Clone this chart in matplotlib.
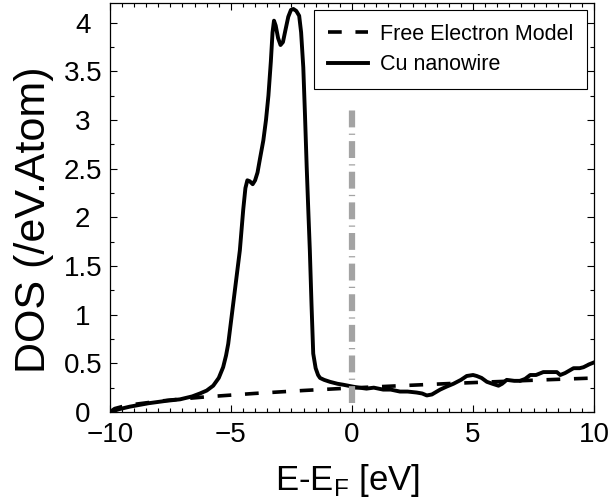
import numpy as np
import matplotlib.pyplot as plt
from matplotlib.ticker import MultipleLocator

plt.rcParams['font.family'] = ['Liberation Sans', 'DejaVu Sans']

# Cu nanowire DOS
cu_energy = [-10.0, -9.6, -9.17, -8.4, -7.66, -7.1, -6.6, -6.28, -6.0, -5.73, -5.5,
             -5.32, -5.2, -5.11, -5.04, -4.9, -4.75, -4.63, -4.49, -4.40, -4.32,
             -4.22, -4.10, -4.0, -3.9, -3.8, -3.66, -3.55, -3.45, -3.35, -3.28,
             -3.22, -3.15, -3.05, -2.95, -2.85, -2.75, -2.63, -2.52, -2.42, -2.3,
             -2.18, -2.1, -2.01, -1.94, -1.87, -1.80, -1.74, -1.67, -1.6, -1.5,
             -1.4, -1.32, -1.15, -0.91, -0.6, -0.36, 0.05, 0.3, 0.6, 0.9, 1.29,
             1.6, 1.98, 2.3, 2.67, 2.9, 3.09, 3.3, 3.64, 3.9, 4.19, 4.5, 4.74,
             5.0, 5.15, 5.35, 5.57, 5.8, 6.05, 6.2, 6.39, 6.7, 6.94, 7.15, 7.36,
             7.6, 7.9, 8.2, 8.46, 8.6, 8.8, 9.15, 9.4, 9.56, 9.8, 10.0]
cu_dos = [0.0, 0.03, 0.055, 0.09, 0.115, 0.13, 0.16, 0.19, 0.22, 0.27, 0.35,
          0.46, 0.58, 0.70, 0.84, 1.12, 1.42, 1.66, 2.08, 2.30, 2.38,
          2.37, 2.34, 2.38, 2.46, 2.60, 2.79, 3.0, 3.25, 3.6, 3.9,
          4.02, 3.97, 3.84, 3.77, 3.80, 3.92, 4.06, 4.13, 4.14, 4.12,
          4.07, 3.9, 3.54, 3.05, 2.52, 2.05, 1.66, 1.1, 0.6, 0.45,
          0.38, 0.35, 0.33, 0.31, 0.29, 0.28, 0.26, 0.25, 0.24, 0.25, 0.23,
          0.23, 0.21, 0.21, 0.20, 0.19, 0.17, 0.18, 0.23, 0.26, 0.29, 0.33, 0.37,
          0.38, 0.37, 0.35, 0.31, 0.29, 0.27, 0.29, 0.33, 0.32, 0.32, 0.34, 0.38,
          0.38, 0.41, 0.41, 0.41, 0.38, 0.40, 0.45, 0.45, 0.46, 0.49, 0.51]

# free electron model
fe_energy = [-10.0, -9.8, -9.5, -9.0, -8.0, -7.0, -6.0, -4.0, -2.0, 0.0, 2.0, 4.0, 6.0, 8.0, 10.0]
fe_dos = [0.0, 0.035, 0.055, 0.078, 0.11, 0.135, 0.156, 0.191, 0.221, 0.247, 0.270, 0.292, 0.312, 0.331, 0.349]

fermi_level = 0.0
fermi_span = [0.09, 3.1]

fig = plt.figure(figsize=(6.1, 4.98), dpi=100)
ax = fig.add_axes([0.180, 0.1727, 0.794, 0.821])

ax.plot(fe_energy, fe_dos, color='black', lw=2.6, ls=(0, (3.8, 3.8)), label='Free Electron Model')
ax.plot(cu_energy, cu_dos, color='black', lw=2.8, label='Cu nanowire',
        solid_joinstyle='round')
ax.plot([fermi_level, fermi_level], fermi_span, color='#a3a3a3', lw=4.5,
        ls=(0, (2.7, 1.0, 0.2, 1.0)))

ax.set_xlim(-10, 10)
ax.set_ylim(0, 4.2)
ax.xaxis.set_minor_locator(MultipleLocator(0.5))
ax.yaxis.set_minor_locator(MultipleLocator(0.25))
ax.set_yticks([0, 0.5, 1, 1.5, 2, 2.5, 3, 3.5, 4])
ax.set_yticklabels(['0', '0.5', '1', '1.5', '2', '2.5', '3', '3.5', '4'])
ax.set_xticks([-10, -5, 0, 5, 10])
ax.set_xticklabels(['\u221210', '\u22125', '0', '5', '10'])
ax.tick_params(which='both', direction='in', top=True, right=True, labelsize=20, width=0.8)
ax.tick_params(which='major', length=5)
ax.tick_params(which='minor', length=3)
ax.tick_params(axis='x', pad=7.5)
ax.tick_params(axis='y', pad=19.5)
# y tick labels are centred in a column, as in the original
for lab in ax.get_yticklabels():
    lab.set_horizontalalignment('center')
for sp in ax.spines.values():
    sp.set_linewidth(0.9)

ax.set_xlabel('E-E$_\\mathregular{F}$ [eV]', fontsize=25)
ax.xaxis.set_label_coords(0.49, -0.123)
ax.set_ylabel('DOS (/eV.Atom)', fontsize=31)
ax.yaxis.set_label_coords(-0.116, 0.47)

leg = ax.legend(loc='upper right', fontsize=15.5, fancybox=False, framealpha=1,
                edgecolor='black', handlelength=1.9, handletextpad=0.55,
                labelspacing=0.45, borderpad=0.62, borderaxespad=0.33)
leg.get_frame().set_linewidth(0.8)

fig.savefig('out.png', dpi=100)
